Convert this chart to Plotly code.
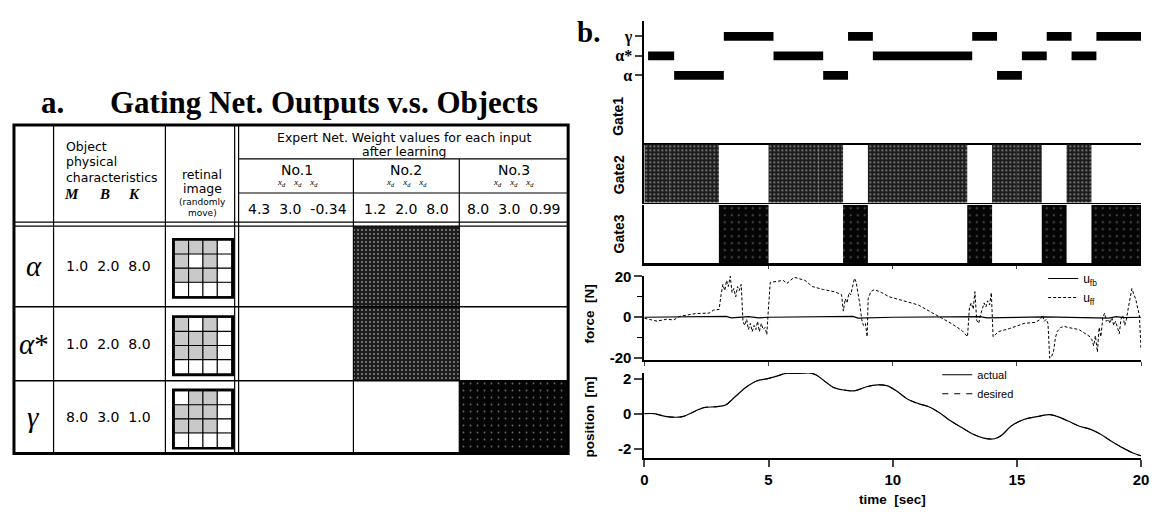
import plotly.graph_objects as go

# page body has an 8px default margin: work in target-pixel coordinates and shift
OFF = 8
W0, H0 = 1160 - OFF, 517 - OFF

# ---------------- data : panel a (table) ----------------
objects = ["α", "α*", "γ"]
object_labels = ["<i>α</i>", "<i>α</i>*", "<i>γ</i>"]
M_vals = [1.0, 1.0, 8.0]
B_vals = [2.0, 2.0, 3.0]
K_vals = [8.0, 8.0, 1.0]
experts = ["No.1", "No.2", "No.3"]
w_no1 = [4.3, 3.0, -0.34]
w_no2 = [1.2, 2.0, 8.0]
w_no3 = [8.0, 3.0, 0.99]
gate_winner = [2, 2, 3]          # expert chosen by the gating net for α, α*, γ
retina_alpha = [[1, 1, 1, 0], [1, 0, 1, 0], [1, 1, 1, 0], [0, 0, 0, 0]]
retina_alpha_star = [[1, 0, 1, 0], [1, 1, 1, 0], [1, 1, 1, 0], [0, 0, 0, 0]]
retina_gamma = [[0, 1, 1, 0], [1, 1, 1, 0], [1, 1, 1, 0], [0, 0, 0, 0]]

# ---------------- data : panel b (time series) ----------------
obj_seq = ["α*", "α", "γ", "α*", "α", "γ", "α*", "γ", "α", "α*", "γ", "α*", "γ"]
obj_bar_start = [0.15, 1.2, 3.2, 5.2, 7.2, 8.2, 9.2, 13.2, 14.2, 15.2, 16.2, 17.2, 18.2]
obj_bar_end = [1.2, 3.2, 5.2, 7.2, 8.2, 9.2, 13.2, 14.2, 15.2, 16.2, 17.2, 18.2, 20.0]
gate_seg_start = [0, 1, 3, 5, 7, 8, 9, 13, 14, 15, 16, 17, 18]
gate_seg_end = [1, 3, 5, 7, 8, 9, 13, 14, 15, 16, 17, 18, 20]

uff_t = [0, 0.29, 0.51, 0.88, 1.18, 1.40, 1.47, 2.06, 2.6, 2.79, 3.01, 3.09, 3.16, 3.24, 3.31,
         3.38, 3.46, 3.53, 3.60, 3.68, 3.75, 3.82, 3.90, 3.97, 4.04, 4.12, 4.19, 4.27, 4.34,
         4.42, 4.49, 4.56, 4.63, 4.71, 4.78, 4.86, 4.93, 5.00, 5.07, 5.59, 5.74, 6.03, 6.47,
         6.76, 7.21, 7.65, 7.94, 8.01, 8.09, 8.16, 8.24, 8.31, 8.38, 8.46, 8.53, 8.60, 8.68,
         8.75, 8.82, 8.90, 8.97, 9.01, 9.12, 9.26, 9.56, 9.85, 10.29, 10.59, 11.03, 11.47,
         11.91, 12.35, 12.79, 13.01, 13.09, 13.16, 13.24, 13.31, 13.38, 13.46, 13.53, 13.60,
         13.68, 13.75, 13.82, 13.90, 13.97, 14.04, 14.26, 14.71, 15.29, 15.74, 15.95, 16.03,
         16.10, 16.18, 16.25, 16.32, 16.40, 16.47, 16.55, 16.62, 16.76, 16.91, 17.06, 17.50,
         17.94, 18.02, 18.09, 18.16, 18.24, 18.31, 18.38, 18.46, 18.53, 18.60, 18.68, 18.75,
         18.82, 18.90, 18.97, 19.05, 19.12, 19.19, 19.26, 19.34, 19.41, 19.49, 19.56, 19.63,
         19.71, 19.78, 19.85, 19.93, 20.0]
uff_v = [-0.5, -1.2, -1.9, -1.0, -1.3, 0.3, 0.5, 1.8, 2.0, 3.5, 3.8, 11, 16, 13, 18,
         15, 20, 12, 14, 10, 15, 13, 16, -2, -4, -1, -6, -3, -7,
         -4, -6, -2, -7, -3, -6, -5, -8.5, 5, 17, 18, 16.5, 19.5, 18,
         15, 13.5, 12.5, 11, 3, 9, 7, 12, 11, 15, 19, 17, 12, 6,
         -1, -4, -3, -9.5, 9, 12.5, 13.5, 12, 10, 8.5, 7.5, 6, 3,
         0, -3, -6.5, -9.5, 5, 7, 4, 12.5, -1.5, -3, 1, 4,
         7, 5, 8, 6, 12, -9.5, -7, -5.5, -3, -2.5, -1, 1,
         -2, -1, -3, -20, -19, -17, -10, -7, -5, -4.5, -5, -6,
         -9.5, -11, -14, -9, -17, -5, -9.5, 0, 2, -2, -1, -3,
         0, -4, -2, -5, -8, -1, 1, -4, -1, 5, 9, 14,
         11, 9, 5, 1, -16]
ufb_t = [0, 2, 3.3, 3.5, 4.2, 4.6, 5, 8.4, 8.6, 10, 13.5, 13.8, 16.1, 18.7, 19.0, 19.3, 20]
ufb_v = [0, 0.1, 0.4, -0.3, 0.3, -0.3, 0, 0.4, -0.4, 0, 0.3, -0.3, 0.2, -0.4, 0.3, -0.2, 0]

pos_t = [0, 0.4, 0.84, 1.28, 1.58, 2.02, 2.39, 2.9, 3.27, 3.64, 4.08, 4.52, 4.97, 5.34, 5.7,
         6.15, 6.59, 6.88, 7.33, 7.62, 8.21, 8.5, 8.95, 9.39, 9.76, 10.13, 10.57, 11.01, 11.45,
         11.9, 12.34, 12.78, 13.22, 13.66, 14.1, 14.4, 14.77, 15.28, 15.87, 16.32, 16.61,
         17.06, 17.49, 17.94, 18.3, 18.82, 19.26, 19.7, 20]
pos_actual = [0, 0, -0.15, -0.2, -0.15, 0.13, 0.35, 0.4, 0.5, 0.95, 1.5, 1.87, 2.0, 2.15, 2.3,
              2.3, 2.33, 2.24, 1.78, 1.5, 1.32, 1.32, 1.54, 1.65, 1.6, 1.32, 0.86, 0.59, 0.4,
              0.04, -0.42, -0.79, -1.16, -1.39, -1.43, -1.21, -0.7, -0.33, -0.15, -0.05, -0.15,
              -0.42, -0.7, -0.88, -1.12, -1.58, -1.95, -2.26, -2.4]
pos_desired = [0, 0, -0.15, -0.2, -0.15, 0.13, 0.35, 0.4, 0.5, 0.95, 1.5, 1.87, 2.0, 2.15, 2.3,
               2.3, 2.33, 2.24, 1.78, 1.5, 1.32, 1.32, 1.54, 1.65, 1.6, 1.32, 0.86, 0.59, 0.4,
               0.04, -0.42, -0.79, -1.16, -1.39, -1.43, -1.21, -0.7, -0.33, -0.15, -0.05, -0.15,
               -0.42, -0.7, -0.88, -1.12, -1.58, -1.95, -2.26, -2.4]

# ---------------- layout constants ----------------
SANS = "DejaVu Sans, Liberation Sans, sans-serif"
SANS2 = "Liberation Sans, Arial, sans-serif"
SERIF = "Liberation Serif, Times New Roman, serif"
col_edges = [10, 50, 163, 235, 353, 460, 570]
row_edges = [224, 307, 383, 458]
table_top = 120
XD = [(647 - OFF) / W0, (1149 - OFF) / W0]


def yd(top, bot):
    return [1 - (bot - OFF) / H0, 1 - (top - OFF) / H0]


def P(x, y):
    return (x - OFF) / W0, 1 - (y - OFF) / H0


gate_style = {
    2: dict(color="#1c1c1c", fg="#d8d8d8", size=4, sol=0.13),
    3: dict(color="#050505", fg="#6a6a6a", size=7, sol=0.05),
}


def gate_marker(g):
    s = gate_style[g]
    return dict(color=s["color"], line=dict(width=0),
                pattern=dict(shape=".", fgcolor=s["fg"], bgcolor=s["color"],
                             size=s["size"], solidity=s["sol"], fillmode="replace"))


fig = go.Figure()

# ---------- panel b traces ----------
fig.add_trace(go.Bar(
    y=obj_seq, x=[e - s for s, e in zip(obj_bar_start, obj_bar_end)], base=obj_bar_start,
    orientation="h", width=0.45, marker=dict(color="black", line=dict(width=0)),
    xaxis="x", yaxis="y", showlegend=False, hoverinfo="skip"))

gate_of = {objects[i]: gate_winner[i] for i in range(len(objects))}
mids = [(s + e) / 2 for s, e in zip(gate_seg_start, gate_seg_end)]
widths = [e - s for s, e in zip(gate_seg_start, gate_seg_end)]
for g, ax in [(1, "2"), (2, "3"), (3, "4")]:
    vals = [1 if gate_of[o] == g else 0 for o in obj_seq]
    fig.add_trace(go.Bar(
        x=mids, y=vals, width=widths,
        marker=gate_marker(g if g > 1 else 2),
        xaxis="x" + ax, yaxis="y" + ax, showlegend=False, hoverinfo="skip"))

fig.add_trace(go.Scatter(x=ufb_t, y=ufb_v, mode="lines", name="u<sub>fb</sub>",
                         line=dict(color="black", width=1.2), xaxis="x5", yaxis="y5",
                         legend="legend", hoverinfo="skip"))
fig.add_trace(go.Scatter(x=uff_t, y=uff_v, mode="lines", name="u<sub>ff</sub>",
                         line=dict(color="black", width=1, dash="3px,2px"), xaxis="x5", yaxis="y5",
                         legend="legend", hoverinfo="skip"))
fig.add_trace(go.Scatter(x=pos_t, y=pos_desired, mode="lines", name="desired",
                         line=dict(color="black", width=1, dash="6px,6px", shape="spline"),
                         xaxis="x6", yaxis="y6", legend="legend2", hoverinfo="skip"))
fig.add_trace(go.Scatter(x=pos_t, y=pos_actual, mode="lines", name="actual",
                         line=dict(color="black", width=1.2, shape="spline"),
                         xaxis="x6", yaxis="y6", legend="legend2", hoverinfo="skip"))

# ---------- panel a : gating output cells ----------
for i, g in enumerate(gate_winner):
    c = 3 + (g - 1)
    fig.add_trace(go.Bar(
        x=[(col_edges[c] + col_edges[c + 1]) / 2], width=[col_edges[c + 1] - col_edges[c]],
        y=[row_edges[i + 1] - row_edges[i]], base=[row_edges[i]],
        marker=gate_marker(g), xaxis="x7", yaxis="y7", showlegend=False, hoverinfo="skip"))

# retinal images
cs = 14.5
shapes = []
for i, grid in enumerate([retina_alpha, retina_alpha_star, retina_gamma]):
    cx = (col_edges[2] + col_edges[3]) / 2 + 2
    cy = (row_edges[i] + row_edges[i + 1]) / 2 + 2
    xs, ys, cols = [], [], []
    for r in range(4):
        for c in range(4):
            xs.append(cx + (c - 1.5) * cs)
            ys.append(cy + (r - 1.5) * cs)
            cols.append("#c9c9c9" if grid[r][c] else "white")
    fig.add_trace(go.Scatter(x=xs, y=ys, mode="markers",
                             marker=dict(symbol="square", size=cs, color=cols,
                                         line=dict(color="black", width=1.1)),
                             xaxis="x7", yaxis="y7", showlegend=False, hoverinfo="skip"))
    shapes.append(dict(type="rect", xref="x7", yref="y7",
                       x0=cx - 2 * cs - 1, x1=cx + 2 * cs + 1, y0=cy - 2 * cs - 1, y1=cy + 2 * cs + 1,
                       line=dict(color="black", width=2.6)))


def L(x0, y0, x1, y1, w=1.2):
    shapes.append(dict(type="line", xref="x7", yref="y7", x0=x0, y0=y0, x1=x1, y1=y1,
                       line=dict(color="black", width=w)))


tb = row_edges[-1]
L(col_edges[1], table_top, col_edges[1], tb)
L(col_edges[2], table_top, col_edges[2], tb)
L(col_edges[3] - 2, table_top, col_edges[3] - 2, tb)
L(col_edges[3] + 2, table_top, col_edges[3] + 2, tb)
L(col_edges[4], 155, col_edges[4], tb)
L(col_edges[5], 155, col_edges[5], tb)
L(col_edges[3] + 2, 155, col_edges[6], 155)
L(col_edges[3] + 2, 190, col_edges[6], 190)
L(col_edges[0], row_edges[0] - 4, col_edges[6], row_edges[0] - 4)
L(col_edges[0], row_edges[0], col_edges[6], row_edges[0])
L(col_edges[0], row_edges[1], col_edges[6], row_edges[1], 1.5)
L(col_edges[0], row_edges[2], col_edges[6], row_edges[2], 1.5)
shapes.append(dict(type="rect", xref="x7", yref="y7", x0=col_edges[0], x1=col_edges[6],
                   y0=table_top, y1=tb, line=dict(color="black", width=3)))

ann = []


def T(x, y, text, size=12, family=SANS, anchor="center", ref="x7", color="black", **kw):
    d = dict(x=x, y=y, text=text, showarrow=False, xanchor=anchor, yanchor="middle",
             font=dict(size=size, family=family, color=color))
    if ref == "x7":
        d.update(xref="x7", yref="y7")
    else:
        px, py = P(x, y)
        d.update(x=px, y=py, xref="paper", yref="paper")
    d.update(kw)
    ann.append(d)


# titles
T(49, 97, "<b>a.</b>", 31, SERIF, ref="paper")
T(323, 97, "<b>Gating Net. Outputs v.s. Objects</b>", 31, SERIF, ref="paper")
T(591, 24, "<b>b.</b>", 29, SERIF, ref="paper")

# table header
T(61, 142, "Object", 12.5, anchor="left")
T(61, 158, "physical", 12.5, anchor="left")
T(61, 174, "characteristics", 12.5, anchor="left")
T(68, 191, "<b><i>M</i></b>", 15, SERIF)
T(101, 191, "<b><i>B</i></b>", 15, SERIF)
T(131, 191, "<b><i>K</i></b>", 15, SERIF)
T(200, 171, "retinal", 12.5)
T(200, 185, "image", 12.5)
T(200, 199, "(randomly", 9)
T(200, 211, "move)", 9)
xc_exp = (col_edges[3] + col_edges[6]) / 2 + 2
T(xc_exp, 133, "Expert Net. Weight values for each input", 12.5)
T(xc_exp, 147, "after learning", 12.5)
weights = [w_no1, w_no2, w_no3]
for j, name in enumerate(experts):
    xc = (col_edges[3 + j] + col_edges[4 + j]) / 2 + (2 if j == 0 else 0)
    T(xc, 166, name, 14)
    T(xc, 179, "<i>x<sub>d</sub>    x<sub>d</sub>    x<sub>d</sub></i>", 9, SERIF)
    T(xc, 206, "  ".join(str(v) for v in weights[j]), 14)
for i in range(3):
    yc = (row_edges[i] + row_edges[i + 1]) / 2
    T(30, yc, object_labels[i], 29, SERIF)
    T(106, yc, "  ".join(str(v) for v in (M_vals[i], B_vals[i], K_vals[i])), 14)

# right-panel labels
for name, yc in [("Gate1", 111), ("Gate2", 171), ("Gate3", 232)]:
    T(621, yc, "<b>" + name + "</b>", 14, SANS2, ref="paper", textangle=-90)
T(592, 314, "<b>force  [N]</b>", 13.5, SANS2, ref="paper", textangle=-90)
T(592, 420, "<b>position  [m]</b>", 13.5, SANS2, ref="paper", textangle=-90)
T(898, 505, "<b>time  [sec]</b>", 13.5, SANS2, ref="paper")

TF = dict(size=15, family=SANS2, color="black", weight="bold")
common_x = dict(domain=XD, range=[0, 20], showgrid=False, zeroline=False)
hidden = dict(showgrid=False, zeroline=False, showticklabels=False, ticks="")

lx1, ly1 = P(1050, 263)
lx2, ly2 = P(943, 362)

fig.update_layout(
    width=W0, height=H0, autosize=False, margin=dict(l=0, r=0, t=0, b=0),
    paper_bgcolor="white", plot_bgcolor="white", barmode="overlay",
    shapes=shapes, annotations=ann,
    xaxis=dict(**common_x, anchor="y", showline=False, showticklabels=False, ticks=""),
    yaxis=dict(domain=yd(13, 80), type="category", categoryorder="array",
               categoryarray=objects, range=[-0.55, 2.8], tickmode="array",
               tickvals=objects, ticktext=["α", "α*", "γ"],
               ticks="outside", ticklen=7, tickwidth=1.5, showline=True, linewidth=2,
               linecolor="black", showgrid=False, zeroline=False,
               tickfont=dict(size=16, family=SERIF, color="black", weight="bold"), anchor="x"),
    xaxis2=dict(**common_x, anchor="y2", showline=True, linewidth=2, linecolor="black",
                showticklabels=False, ticks=""),
    yaxis2=dict(domain=yd(80, 139), range=[0, 1], anchor="x2", showline=True, linewidth=2,
                linecolor="black", **hidden),
    xaxis3=dict(**common_x, anchor="y3", showline=True, mirror=True, linewidth=1.2,
                linecolor="black", showticklabels=False, ticks=""),
    yaxis3=dict(domain=yd(140, 200), range=[0, 1], anchor="x3", showline=True, linewidth=2,
                linecolor="black", **hidden),
    xaxis4=dict(**common_x, anchor="y4", showline=True, linewidth=2.5, linecolor="black",
                showticklabels=False, ticks="outside", ticklen=3, tickmode="array",
                tickvals=[5, 10, 15]),
    yaxis4=dict(domain=yd(202, 262), range=[0, 1], anchor="x4", showline=True, linewidth=2,
                linecolor="black", **hidden),
    xaxis5=dict(**common_x, anchor="y5", showline=True, linewidth=2, linecolor="black",
                showticklabels=False, ticks="outside", ticklen=4, tickmode="array",
                tickvals=[0, 5, 10, 15, 20]),
    yaxis5=dict(domain=yd(275, 362), range=[-21, 20.3], anchor="x5", showline=True,
                linewidth=2, linecolor="black", showgrid=False, zeroline=False,
                tickmode="array", tickvals=[-20, 0, 20], ticktext=["-20", "0", "20"],
                ticks="outside", ticklen=8, tickwidth=1.5, tickfont=TF,
                minor=dict(tickmode="array", tickvals=[-10, 10], ticks="outside", ticklen=5,
                           tickwidth=1.2, tickcolor="black")),
    xaxis6=dict(**common_x, anchor="y6", showline=True, linewidth=2, linecolor="black",
                ticks="outside", ticklen=7, tickwidth=1.5, tickmode="array",
                tickvals=[0, 5, 10, 15, 20], tickfont=TF),
    yaxis6=dict(domain=yd(375, 462), range=[-2.5, 2.33], anchor="x6", showline=True,
                linewidth=2, linecolor="black", showgrid=False, zeroline=False,
                tickmode="array", tickvals=[-2, 0, 2], ticktext=["-2", "0", "2"],
                ticks="outside", ticklen=8, tickwidth=1.5, tickfont=TF),
    xaxis7=dict(domain=[0, (580 - OFF) / W0], range=[OFF, 580], anchor="y7", visible=False,
                fixedrange=True),
    yaxis7=dict(domain=[0, 1], range=[517, OFF], anchor="x7", visible=False, fixedrange=True),
    legend=dict(x=lx1, y=ly1, xanchor="left", yanchor="top",
                bgcolor="rgba(0,0,0,0)", font=dict(size=12, family=SANS2, color="black"),
                tracegroupgap=0, itemwidth=30),
    legend2=dict(x=lx2, y=ly2, xanchor="left", yanchor="top",
                 bgcolor="rgba(0,0,0,0)", font=dict(size=11, family=SANS2, color="black"),
                 tracegroupgap=0, itemwidth=30, traceorder="reversed"),
    showlegend=True,
)

fig.write_html("out.html")
